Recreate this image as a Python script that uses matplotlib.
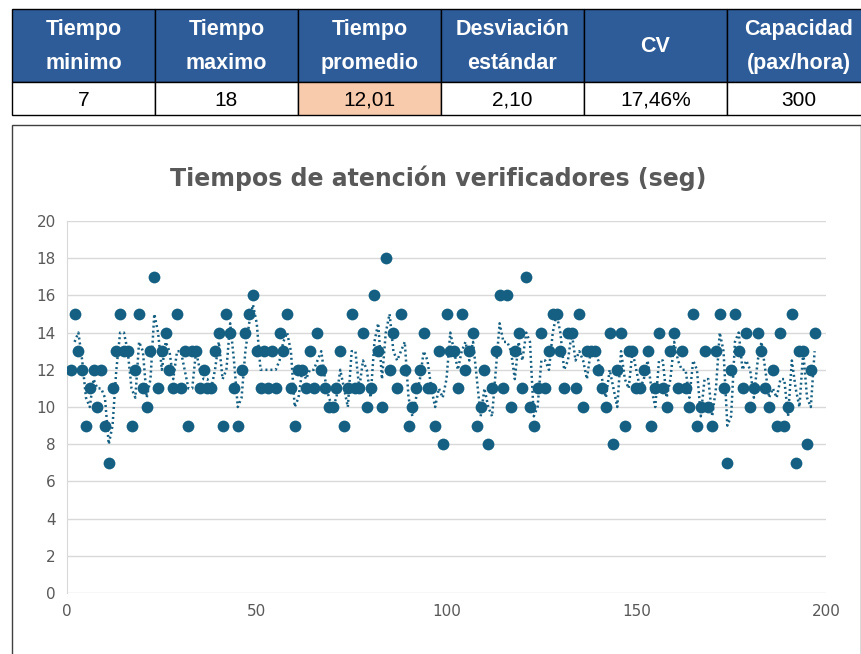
import numpy as np
import matplotlib
matplotlib.use("Agg")
import matplotlib.pyplot as plt
from matplotlib.patches import Rectangle

# resumen (tabla superior)
headers = ["Tiempo\nminimo", "Tiempo\nmaximo", "Tiempo\npromedio",
           "Desviación\nestándar", "CV", "Capacidad\n(pax/hora)"]
resumen = ["7", "18", "12,01", "2,10", "17,46%", "300"]

# tiempos de atención (seg), observaciones 1..197
tiempos = [12, 15, 13, 12, 9, 11, 12, 10, 12, 9,
           7, 11, 13, 15, 13, 13, 9, 12, 15, 11,
           10, 13, 17, 11, 13, 14, 12, 11, 15, 11,
           13, 9, 13, 13, 11, 12, 11, 11, 13, 14,
           9, 15, 14, 11, 9, 12, 14, 15, 16, 13,
           11, 13, 11, 13, 11, 14, 13, 15, 11, 9,
           12, 12, 11, 13, 11, 14, 12, 11, 10, 10,
           11, 13, 9, 11, 15, 11, 11, 14, 10, 11,
           16, 13, 10, 18, 12, 14, 11, 15, 12, 9,
           10, 11, 12, 14, 11, 11, 9, 13, 8, 15,
           13, 13, 11, 15, 12, 13, 14, 9, 10, 12,
           8, 11, 13, 16, 11, 16, 10, 13, 14, 11,
           17, 10, 9, 11, 14, 11, 13, 15, 15, 13,
           11, 14, 14, 11, 15, 10, 13, 13, 13, 12,
           11, 10, 14, 8, 12, 14, 9, 13, 13, 11,
           11, 12, 13, 9, 11, 14, 11, 10, 13, 14,
           11, 13, 11, 10, 15, 9, 10, 13, 10, 9,
           13, 15, 11, 7, 12, 15, 13, 11, 14, 10,
           11, 14, 13, 11, 10, 12, 9, 14, 9, 10,
           15, 7, 13, 13, 8, 12, 14]
obs = np.arange(1, len(tiempos) + 1)

azul = "#156082"
gris = "#595959"
tabla_font = ["Liberation Sans", "DejaVu Sans"]

fig = plt.figure(figsize=(8.62, 6.54), dpi=100)

# capa en pixeles para tabla y marco del grafico
bg = fig.add_axes([0, 0, 1, 1])
bg.set_xlim(0, 862)
bg.set_ylim(654, 0)
bg.axis("off")

x0, w = 12, 143
top, h1, h2 = 9, 73, 33
for k, (hd, val) in enumerate(zip(headers, resumen)):
    x = x0 + k * w
    bg.add_patch(Rectangle((x, top), w, h1, facecolor="#2E5C99",
                           edgecolor="black", lw=1))
    bg.add_patch(Rectangle((x, top + h1), w, h2,
                           facecolor="#F8CBAD" if k == 2 else "white",
                           edgecolor="black", lw=1))
    bg.text(x + w / 2, top + h1 / 2 + 1, hd, color="white", fontsize=15.5,
            fontweight="bold", family=tabla_font, ha="center",
            va="center", linespacing=1.85)
    bg.text(x + w / 2, top + h1 + h2 / 2 + 2, val, color="black",
            fontsize=15, family=tabla_font, ha="center", va="center")

# marco del grafico
bg.add_patch(Rectangle((12, 125), 849, 540, facecolor="white",
                       edgecolor="#404040", lw=1))
bg.text(438, 178, "Tiempos de atención verificadores (seg)", color=gris,
        fontsize=17, fontweight="bold", ha="center", va="center")

ax = fig.add_axes([67 / 862, 61 / 654, 759 / 862, 372 / 654])
ax.set_facecolor("none")

# media movil de 2 periodos (linea punteada)
mm = np.convolve(tiempos, np.ones(2) / 2, mode="valid")
ax.plot(obs[1:], mm, color=azul, lw=1.8, linestyle=(0, (0.8, 1.2)), zorder=2)
ax.scatter(obs, tiempos, s=72, color=azul, zorder=3, linewidths=0)

ax.set_xlim(0, 200)
ax.set_ylim(0, 20)
ax.set_xticks(range(0, 201, 50))
ax.set_yticks(range(0, 21, 2))
ax.grid(axis="y", color="#D9D9D9", lw=1)
ax.set_axisbelow(True)
for s in ["top", "right", "bottom"]:
    ax.spines[s].set_visible(False)
ax.spines["left"].set_color("#D9D9D9")
ax.tick_params(length=0, colors=gris, labelsize=11, pad=8)

fig.savefig("out.png", dpi=100)
